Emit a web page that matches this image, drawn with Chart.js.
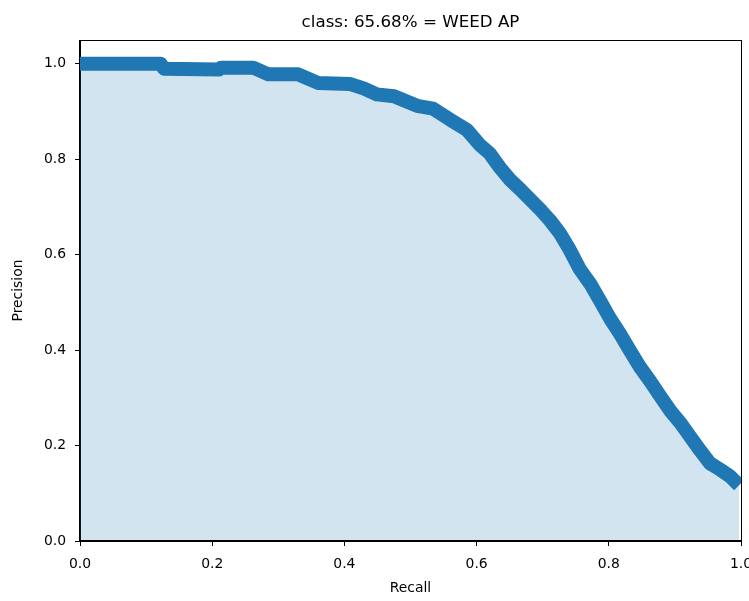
<!DOCTYPE html>
<html><head><meta charset="utf-8">
<script src="https://cdn.jsdelivr.net/npm/chart.js@4.4.0/dist/chart.umd.min.js"></script>
<style>html,body{margin:0;padding:0;background:#fff}</style>
</head><body>
<canvas id="c" width="749" height="601"></canvas>
<script>
const recall = [0, 0.122, 0.127, 0.21, 0.213, 0.262, 0.285, 0.33, 0.36, 0.408, 0.43, 0.449, 0.475, 0.51, 0.534, 0.56, 0.585, 0.605, 0.62, 0.635, 0.65, 0.666, 0.681, 0.696, 0.711, 0.726, 0.741, 0.756, 0.772, 0.787, 0.802, 0.817, 0.832, 0.847, 0.862, 0.877, 0.893, 0.908, 0.923, 0.938, 0.953, 0.968, 0.983, 0.997];
const precision = [1.0, 1.0, 0.990, 0.988, 0.992, 0.992, 0.978, 0.978, 0.960, 0.958, 0.948, 0.936, 0.932, 0.912, 0.906, 0.883, 0.862, 0.830, 0.812, 0.783, 0.758, 0.737, 0.716, 0.695, 0.672, 0.645, 0.610, 0.570, 0.539, 0.503, 0.466, 0.434, 0.399, 0.365, 0.336, 0.305, 0.273, 0.248, 0.219, 0.190, 0.163, 0.150, 0.136, 0.117];
const xTicks = [0, 0.2, 0.4, 0.6, 0.8, 1.0];
const yTicks = [0, 0.2, 0.4, 0.6, 0.8, 1.0];
const titleText = 'class: 65.68% = WEED AP';
const xLabel = 'Recall';
const yLabel = 'Precision';

const FONT = 'DejaVu Sans';
const points = recall.map((r, i) => ({x: r, y: precision[i]}));

const framePlugin = {
  id: 'frame',
  afterDraw(chart) {
    const {ctx, chartArea: a} = chart;
    ctx.save();
    ctx.strokeStyle = '#000';
    ctx.lineWidth = 1;
    ctx.strokeRect(Math.round(a.left) - 0.5, Math.round(a.top) + 0.5, Math.round(a.right - a.left) + 1, Math.round(a.bottom - a.top) - 1);
    ctx.fillStyle = '#000';
    ctx.font = '16.7px "' + FONT + '"';
    ctx.textAlign = 'center';
    ctx.textBaseline = 'alphabetic';
    ctx.fillText(titleText, (a.left + a.right) / 2, a.top - 13);
    ctx.restore();
  }
};

new Chart(document.getElementById('c'), {
  type: 'line',
  data: {
    datasets: [{
      data: points,
      borderColor: '#1f77b4',
      backgroundColor: 'rgba(31,119,180,0.2)',
      borderWidth: 14,
      pointRadius: 0,
      tension: 0,
      fill: 'origin',
      borderJoinStyle: 'round',
      borderCapStyle: 'butt',
      clip: 0
    }]
  },
  options: {
    responsive: false,
    devicePixelRatio: 1,
    animation: false,
    layout: {padding: {top: 40, right: 8, left: 0, bottom: 0}},
    plugins: {legend: {display: false}, tooltip: {enabled: false}, title: {display: false}},
    scales: {
      x: {
        type: 'linear', min: 0, max: 1,
        afterBuildTicks: s => { s.ticks = xTicks.map(v => ({value: v})); },
        afterFit: s => { s.height = 60; s.paddingLeft = 0; s.paddingRight = 0; },
        grid: {display: true, drawOnChartArea: false, drawTicks: true, tickLength: 5, color: '#000'},
        border: {display: true, color: '#000'},
        ticks: {font: {family: FONT, size: 13.9}, color: '#000', padding: 10, maxRotation: 0, callback: v => v.toFixed(1)},
        title: {display: true, text: xLabel, font: {family: FONT, size: 13.9}, color: '#000', padding: {top: 0, bottom: 4}}
      },
      y: {
        type: 'linear', min: 0, max: 1.05,
        afterBuildTicks: s => { s.ticks = yTicks.map(v => ({value: v})); },
        afterFit: s => { s.width = 80; s.paddingTop = 0; s.paddingBottom = 0; },
        grid: {display: true, drawOnChartArea: false, drawTicks: true, tickLength: 5, color: '#000'},
        border: {display: true, color: '#000'},
        ticks: {font: {family: FONT, size: 13.9}, color: '#000', padding: 9, callback: v => v.toFixed(1)},
        title: {display: true, text: yLabel, font: {family: FONT, size: 13.9}, color: '#000', padding: {top: 10, bottom: 0}}
      }
    }
  },
  plugins: [framePlugin]
});
</script>
</body></html>
